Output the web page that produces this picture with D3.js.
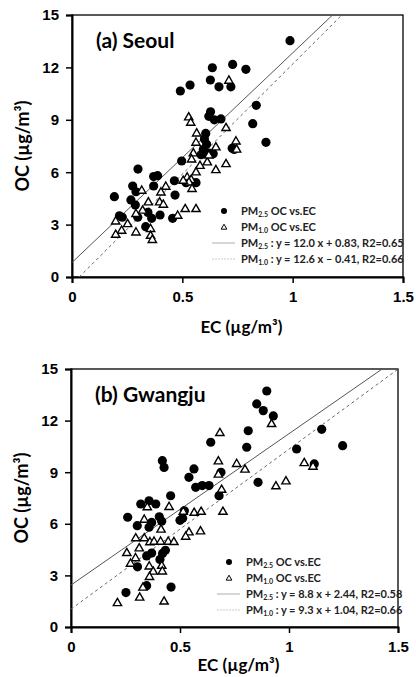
<!DOCTYPE html>
<html>
<head>
<meta charset="utf-8">
<script src="https://cdn.jsdelivr.net/npm/d3@7"></script>
<style>
  body { margin: 0; background: #fff; }
  svg { display: block; }
</style>
</head>
<body>
<svg id="chart_svg" width="416" height="677"></svg>
<script>
// ---- data ----
const xTicks = [0, 0.5, 1, 1.5];
const yTicks = [0, 3, 6, 9, 12, 15];

// (a) Seoul  [EC, OC]
const seoulPM25 = [
  [0.988,13.53],[0.636,11.98],[0.728,12.17],[0.788,11.89],[0.535,10.99],[0.491,10.65],
  [0.627,11.28],[0.666,10.89],[0.720,10.89],[0.835,9.83],[0.628,9.46],[0.620,9.2],
  [0.645,9.0],[0.675,9.05],[0.819,8.78],[0.879,7.71],[0.606,8.22],[0.600,7.9],
  [0.61,7.6],[0.595,7.3],[0.62,7.1],[0.585,7.0],[0.640,7.05],[0.726,7.37],[0.735,7.3],
  [0.497,6.64],[0.299,6.18],[0.388,5.8],[0.37,5.75],[0.464,5.51],[0.517,5.4],[0.562,5.4],
  [0.275,5.21],[0.37,5.21],[0.29,4.88],[0.192,4.6],[0.467,4.69],[0.267,4.41],[0.287,4.12],
  [0.344,3.7],[0.399,3.55],[0.228,3.42],[0.298,3.42],[0.361,3.36],[0.456,3.36],[0.334,2.88],
  [0.215,3.5]
];
const seoulPM10 = [
  [0.711,11.28],[0.529,9.18],[0.538,8.87],[0.565,8.26],[0.698,8.57],[0.562,7.73],[0.743,7.8],
  [0.746,7.33],[0.652,7.46],[0.55,7.12],[0.542,6.77],[0.613,6.6],[0.698,6.5],[0.652,6.16],
  [0.562,6.03],[0.522,5.74],[0.54,5.6],[0.53,5.46],[0.504,5.55],[0.544,5.08],[0.513,3.93],
  [0.562,3.93],[0.316,4.98],[0.425,5.21],[0.403,4.88],[0.346,4.31],[0.397,4.31],[0.414,4.18],
  [0.32,3.84],[0.479,3.55],[0.29,3.65],[0.252,3.07],[0.198,3.22],[0.225,2.69],[0.198,2.46],
  [0.29,2.59],[0.356,2.79],[0.356,2.4],[0.364,2.16],[0.62,7.0],[0.58,6.4]
];
const seoulFits = [
  { sub: '2.5', slope: 12.0, icpt: 0.83, label: ' : y = 12.0 x + 0.83, R2=0.65' },
  { sub: '1.0', slope: 12.6, icpt: -0.41, label: ' : y = 12.6 x \u2013 0.41, R2=0.66' }
];

// (b) Gwangju  [EC, OC]
const gwangjuPM25 = [
  [0.898,13.72],[0.852,12.97],[0.882,12.58],[0.928,12.27],[0.813,11.41],[1.15,11.49],
  [0.641,10.74],[0.806,10.45],[1.035,10.35],[1.246,10.54],[0.419,9.67],[0.427,9.28],
  [0.564,9.19],[0.541,8.7],[0.688,8.99],[1.116,9.48],[0.858,8.41],[0.572,8.12],[0.602,8.22],
  [0.633,8.22],[0.679,7.63],[0.457,7.63],[0.32,7.15],[0.358,7.34],[0.389,7.15],[0.26,6.38],
  [0.304,5.89],[0.358,5.8],[0.37,6.08],[0.405,6.41],[0.416,6.15],[0.5,6.2],[0.512,6.32],
  [0.52,6.76],[0.347,4.13],[0.37,4.3],[0.42,4.28],[0.433,4.46],[0.408,3.93],[0.305,3.5],
  [0.252,2.0],[0.347,2.4],[0.459,2.32]
];
const gwangjuPM10 = [
  [0.683,11.32],[0.92,11.84],[0.676,9.67],[0.76,9.52],[0.798,9.19],[0.676,8.9],[0.691,8.02],
  [0.94,8.22],[0.986,8.51],[1.07,9.57],[1.11,9.36],[0.697,6.74],[0.35,7.0],[0.45,7.02],
  [0.336,6.28],[0.515,6.74],[0.565,6.68],[0.597,6.74],[0.413,5.7],[0.541,5.54],[0.526,5.29],
  [0.594,5.6],[0.297,5.2],[0.336,5.2],[0.362,4.97],[0.381,5.0],[0.411,5.0],[0.446,5.0],
  [0.472,4.98],[0.313,4.61],[0.256,4.34],[0.296,4.04],[0.273,3.72],[0.359,3.56],[0.416,3.6],
  [0.377,3.26],[0.419,3.27],[0.36,2.95],[0.33,2.33],[0.315,1.75],[0.213,1.43],[0.427,1.52]
];
const gwangjuFits = [
  { sub: '2.5', slope: 8.8, icpt: 2.44, label: ' : y = 8.8 x + 2.44, R2=0.58' },
  { sub: '1.0', slope: 9.3, icpt: 1.04, label: ' : y = 9.3 x + 1.04, R2=0.66' }
];

const svg = d3.select('#chart_svg');
const labelFont = 'Lato, "Open Sans", sans-serif';
const tickFont = '"Liberation Sans", Arial, sans-serif';

function drawPanel(opt){
  const xScale = d3.scaleLinear().domain([0, 1.5]).range([opt.left, opt.right]);
  const yScale = d3.scaleLinear().domain([0, 15]).range([opt.bottom, opt.top]);
  const g = svg.append('g');

  // frame
  g.append('rect')
    .attr('x', opt.left).attr('y', opt.top)
    .attr('width', opt.right - opt.left).attr('height', opt.bottom - opt.top)
    .attr('fill', 'none').attr('stroke', '#000').attr('stroke-width', 1.3);

  //axes
  const xAxis = d3.axisBottom(xScale).tickValues(xTicks).tickFormat(d => d).tickSize(6).tickPadding(8);
  const yAxis = d3.axisLeft(yScale).tickValues(yTicks).tickFormat(d => d).tickSize(6).tickPadding(7);
  const gx = g.append('g').attr('transform', `translate(0,${opt.bottom})`).call(xAxis);
  const gy = g.append('g').attr('transform', `translate(${opt.left},0)`).call(yAxis);
  [gx, gy].forEach(a => {
    a.select('.domain').attr('stroke-width', 2);
    a.selectAll('.tick line').attr('stroke-width', 1.5);
    a.selectAll('text')
      .style('font-family', tickFont)
      .style('font-size', '15px')
      .style('font-weight', 'bold')
      .attr('fill', '#000');
  });

  // axis titles
  g.append('text')
    .attr('x', (opt.left + opt.right) / 2 + 4)
    .attr('y', opt.bottom + opt.xTitleGap)
    .attr('text-anchor', 'middle')
    .style('font-family', labelFont).style('font-size', '17px').style('font-weight', 'bold')
    .text('EC (\u00b5g/m\u00b3)');
  g.append('text')
    .attr('transform', `translate(${opt.left - 43},${(opt.top + opt.bottom) / 2}) rotate(-90)`)
    .attr('text-anchor', 'middle')
    .style('font-family', labelFont).style('font-size', '18px').style('font-weight', 'bold')
    .text('OC (\u00b5g/m\u00b3)');

  // panel title
  g.append('text')
    .attr('x', opt.left + 24)
    .attr('y', opt.top + 33)
    .style('font-family', labelFont).style('font-size', '21px').style('font-weight', 'bold')
    .text(opt.title);

  // trend lines
  opt.fits.forEach((f, i) => {
    const x0 = Math.max(0, -f.icpt / f.slope);
    const x1 = Math.min(1.5, (15 - f.icpt) / f.slope);
    g.append('line')
      .attr('x1', xScale(x0)).attr('y1', yScale(f.slope * x0 + f.icpt))
      .attr('x2', xScale(x1)).attr('y2', yScale(f.slope * x1 + f.icpt))
      .attr('stroke', i == 0 ? '#555' : '#666')
      .attr('stroke-width', 1)
      .attr('stroke-dasharray', i == 0 ? null : '3,3');
  });

  // PM2.5 dots
  g.selectAll('.dot')
    .data(opt.pm25)
    .enter()
    .append('circle')
    .attr('cx', d => xScale(d[0]))
    .attr('cy', d => yScale(d[1]))
    .attr('r', 4.6)
    .attr('fill', '#000');

  // PM1.0 triangles
  const tri = d3.symbol().type(d3.symbolTriangle).size(30);
  g.selectAll('.tri')
    .data(opt.pm10)
    .enter()
    .append('path')
    .attr('d', tri)
    .attr('transform', d => `translate(${xScale(d[0])},${yScale(d[1]) + 0.8})`)
    .attr('fill', '#fff')
    .attr('stroke', '#000')
    .attr('stroke-width', 1.4);

  // legend
  const lg = g.append('g').attr('transform', `translate(${opt.legX},${opt.legY})`);
  const rows = [
    { kind: 'dot', sub: '2.5', text: ' OC vs.EC' },
    { kind: 'tri', sub: '1.0', text: ' OC vs.EC' },
    { kind: 'solid', sub: opt.fits[0].sub, text: opt.fits[0].label },
    { kind: 'dash', sub: opt.fits[1].sub, text: opt.fits[1].label }
  ];
  rows.forEach((r, i) => {
    const y = i * 16;
    if (r.kind == 'dot') {
      lg.append('circle').attr('cx', -17).attr('cy', y).attr('r', 3).attr('fill', '#000');
    } else if (r.kind == 'tri') {
      lg.append('path').attr('d', d3.symbol().type(d3.symbolTriangle).size(14))
        .attr('transform', `translate(-17,${y + 0.5})`)
        .attr('fill', '#fff').attr('stroke', '#000').attr('stroke-width', 1);
    } else {
      lg.append('line').attr('x1', -29).attr('x2', -6).attr('y1', y).attr('y2', y)
        .attr('stroke', r.kind == 'solid' ? '#bbb' : '#ccc')
        .attr('stroke-width', 1.2)
        .attr('stroke-dasharray', r.kind == 'solid' ? null : '2,1');
    }
    const t = lg.append('text')
      .attr('x', 0).attr('y', y + 4)
      .style('font-family', labelFont).style('font-size', '11px').style('font-weight', 'bold')
      .attr('fill', '#222');
    t.append('tspan').text('PM');
    t.append('tspan').attr('dy', 2).style('font-size', '7px').text(r.sub);
    t.append('tspan').attr('dy', -2).text(r.text);
  });
}

drawPanel({
  left: 72, right: 403, top: 15, bottom: 277, xTitleGap: 56,
  title: '(a) Seoul', pm25: seoulPM25, pm10: seoulPM10, fits: seoulFits,
  legX: 241, legY: 211
});
drawPanel({
  left: 71, right: 398, top: 369, bottom: 627, xTitleGap: 44,
  title: '(b) Gwangju', pm25: gwangjuPM25, pm10: gwangjuPM10, fits: gwangjuFits,
  legX: 246, legY: 562
});
</script>
</body>
</html>
